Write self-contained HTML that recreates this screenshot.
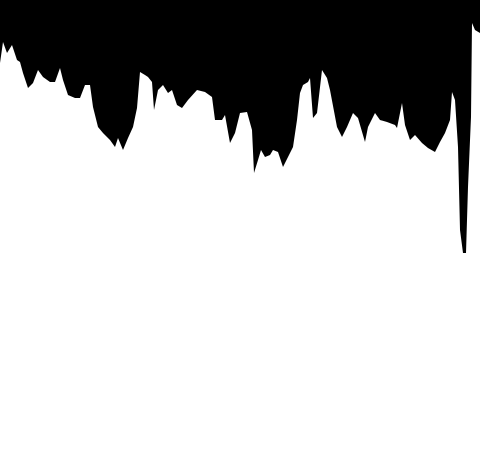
<!DOCTYPE html>
<html><head><meta charset="utf-8"><style>
html,body{margin:0;padding:0;background:#fff;width:480px;height:458px;overflow:hidden}
svg{display:block}
</style></head><body>
<svg id="chart" width="480" height="458" viewBox="0 0 480 458"></svg>
<script>
const xs=[0,3,7,12,17,20,23,28,33,38,43,50,55,60,63,68,75,80,85,90,93,98,103,110,115,118,123,128,133,137,140,145,148,152,154,158,163,168,172,177,182,188,197,205,212,215,222,225,230,235,
240,247,252,254,258,261,265,270,273,278,283,288,293,297,300,303,308,310,313,317,322,327,330,337,342,347,353,358,365,368,375,380,387,395,397,402,405,410,415,422,428,435,440,445,450,452,455,458,460,463,466,468,471,472,475,480];
const vals=[63,42,53,45,60,62,73,88,83,70,77,82,82,68,80,95,98,98,85,85,107,127,133,140,147,138,150,138,127,108,72,75,77,82,110,90,85,93,90,105,108,100,90,92,97,120,120,115,143,133,
113,112,130,173,160,150,157,155,150,152,167,157,147,120,93,85,82,78,118,113,70,78,90,127,137,127,113,118,142,127,113,120,122,125,128,103,125,140,135,143,148,152,142,133,120,92,100,147,230,253,253,187,117,23,30,33];
const xScale=v=>v*480/480;
const yScale=v=>v*458/458;
const svg=document.getElementById('chart');
let d='M0,0 L'+xScale(xs[0])+','+yScale(vals[0]);
for(let i=1;i<xs.length;i++){d+=' L'+xScale(xs[i])+','+yScale(vals[i]);}
d+=' L480,0 Z';
const p=document.createElementNS('http://www.w3.org/2000/svg','path');
p.setAttribute('d',d);
p.setAttribute('fill','#000');


svg.appendChild(p);
</script>
</body></html>
